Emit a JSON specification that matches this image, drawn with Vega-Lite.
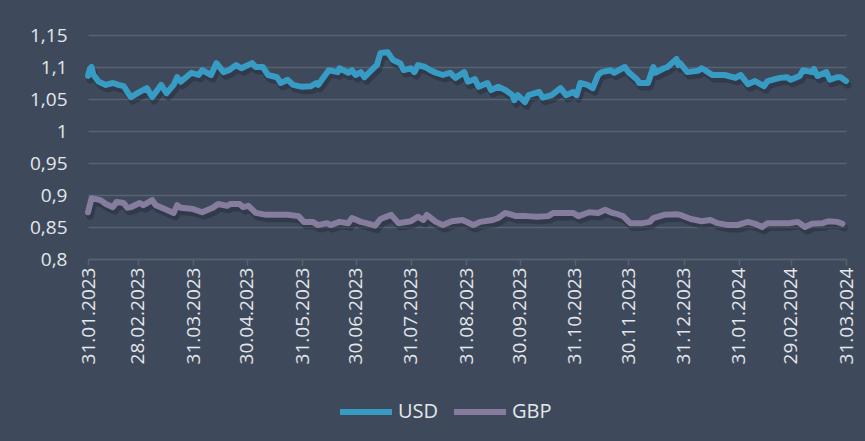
{
  "$schema": "https://vega.github.io/schema/vega-lite/v6.json",
  "width": 758,
  "height": 224,
  "autosize": {"type": "none"},
  "padding": {"left": 88, "top": 35, "right": 19, "bottom": 182},
  "background": "#3e4a5c",
  "config": {
    "view": {"stroke": null},
    "font": "Open Sans",
    "axis": {"labelColor": "#e4e6ea", "labelFont": "Open Sans", "domainColor": "#58626f", "tickColor": "#58626f"}
  },
  "data": {
    "values": [
      {"date":"2023-01-31","currency":"USD","rate":1.086},
      {"date":"2023-02-01","currency":"USD","rate":1.097},
      {"date":"2023-02-02","currency":"USD","rate":1.100},
      {"date":"2023-02-03","currency":"USD","rate":1.088},
      {"date":"2023-02-06","currency":"USD","rate":1.077},
      {"date":"2023-02-10","currency":"USD","rate":1.072},
      {"date":"2023-02-14","currency":"USD","rate":1.075},
      {"date":"2023-02-17","currency":"USD","rate":1.072},
      {"date":"2023-02-20","currency":"USD","rate":1.070},
      {"date":"2023-02-24","currency":"USD","rate":1.053},
      {"date":"2023-03-01","currency":"USD","rate":1.061},
      {"date":"2023-03-05","currency":"USD","rate":1.067},
      {"date":"2023-03-08","currency":"USD","rate":1.053},
      {"date":"2023-03-13","currency":"USD","rate":1.072},
      {"date":"2023-03-16","currency":"USD","rate":1.059},
      {"date":"2023-03-20","currency":"USD","rate":1.072},
      {"date":"2023-03-22","currency":"USD","rate":1.084},
      {"date":"2023-03-24","currency":"USD","rate":1.077},
      {"date":"2023-03-30","currency":"USD","rate":1.091},
      {"date":"2023-04-03","currency":"USD","rate":1.0875},
      {"date":"2023-04-05","currency":"USD","rate":1.095},
      {"date":"2023-04-10","currency":"USD","rate":1.0875},
      {"date":"2023-04-13","currency":"USD","rate":1.106},
      {"date":"2023-04-17","currency":"USD","rate":1.092},
      {"date":"2023-04-20","currency":"USD","rate":1.095},
      {"date":"2023-04-24","currency":"USD","rate":1.103},
      {"date":"2023-04-27","currency":"USD","rate":1.098},
      {"date":"2023-05-03","currency":"USD","rate":1.106},
      {"date":"2023-05-05","currency":"USD","rate":1.100},
      {"date":"2023-05-09","currency":"USD","rate":1.100},
      {"date":"2023-05-12","currency":"USD","rate":1.0875},
      {"date":"2023-05-17","currency":"USD","rate":1.084},
      {"date":"2023-05-19","currency":"USD","rate":1.075},
      {"date":"2023-05-23","currency":"USD","rate":1.080},
      {"date":"2023-05-26","currency":"USD","rate":1.072},
      {"date":"2023-05-31","currency":"USD","rate":1.069},
      {"date":"2023-06-05","currency":"USD","rate":1.070},
      {"date":"2023-06-08","currency":"USD","rate":1.075},
      {"date":"2023-06-09","currency":"USD","rate":1.072},
      {"date":"2023-06-15","currency":"USD","rate":1.095},
      {"date":"2023-06-20","currency":"USD","rate":1.092},
      {"date":"2023-06-21","currency":"USD","rate":1.098},
      {"date":"2023-06-26","currency":"USD","rate":1.091},
      {"date":"2023-06-28","currency":"USD","rate":1.095},
      {"date":"2023-06-30","currency":"USD","rate":1.0875},
      {"date":"2023-07-03","currency":"USD","rate":1.092},
      {"date":"2023-07-05","currency":"USD","rate":1.084},
      {"date":"2023-07-10","currency":"USD","rate":1.098},
      {"date":"2023-07-12","currency":"USD","rate":1.103},
      {"date":"2023-07-14","currency":"USD","rate":1.122},
      {"date":"2023-07-18","currency":"USD","rate":1.123},
      {"date":"2023-07-19","currency":"USD","rate":1.119},
      {"date":"2023-07-21","currency":"USD","rate":1.111},
      {"date":"2023-07-25","currency":"USD","rate":1.106},
      {"date":"2023-07-27","currency":"USD","rate":1.095},
      {"date":"2023-07-31","currency":"USD","rate":1.098},
      {"date":"2023-08-02","currency":"USD","rate":1.092},
      {"date":"2023-08-04","currency":"USD","rate":1.103},
      {"date":"2023-08-08","currency":"USD","rate":1.100},
      {"date":"2023-08-11","currency":"USD","rate":1.095},
      {"date":"2023-08-14","currency":"USD","rate":1.091},
      {"date":"2023-08-18","currency":"USD","rate":1.0875},
      {"date":"2023-08-22","currency":"USD","rate":1.091},
      {"date":"2023-08-25","currency":"USD","rate":1.083},
      {"date":"2023-08-30","currency":"USD","rate":1.092},
      {"date":"2023-09-01","currency":"USD","rate":1.077},
      {"date":"2023-09-05","currency":"USD","rate":1.081},
      {"date":"2023-09-07","currency":"USD","rate":1.069},
      {"date":"2023-09-12","currency":"USD","rate":1.075},
      {"date":"2023-09-14","currency":"USD","rate":1.064},
      {"date":"2023-09-18","currency":"USD","rate":1.069},
      {"date":"2023-09-22","currency":"USD","rate":1.064},
      {"date":"2023-09-26","currency":"USD","rate":1.056},
      {"date":"2023-09-27","currency":"USD","rate":1.048},
      {"date":"2023-09-29","currency":"USD","rate":1.056},
      {"date":"2023-10-03","currency":"USD","rate":1.045},
      {"date":"2023-10-05","currency":"USD","rate":1.056},
      {"date":"2023-10-11","currency":"USD","rate":1.061},
      {"date":"2023-10-13","currency":"USD","rate":1.052},
      {"date":"2023-10-18","currency":"USD","rate":1.056},
      {"date":"2023-10-23","currency":"USD","rate":1.067},
      {"date":"2023-10-26","currency":"USD","rate":1.056},
      {"date":"2023-10-30","currency":"USD","rate":1.061},
      {"date":"2023-11-01","currency":"USD","rate":1.056},
      {"date":"2023-11-03","currency":"USD","rate":1.075},
      {"date":"2023-11-07","currency":"USD","rate":1.072},
      {"date":"2023-11-10","currency":"USD","rate":1.067},
      {"date":"2023-11-13","currency":"USD","rate":1.0875},
      {"date":"2023-11-15","currency":"USD","rate":1.092},
      {"date":"2023-11-20","currency":"USD","rate":1.095},
      {"date":"2023-11-22","currency":"USD","rate":1.091},
      {"date":"2023-11-28","currency":"USD","rate":1.100},
      {"date":"2023-11-30","currency":"USD","rate":1.092},
      {"date":"2023-12-05","currency":"USD","rate":1.080},
      {"date":"2023-12-06","currency":"USD","rate":1.075},
      {"date":"2023-12-11","currency":"USD","rate":1.075},
      {"date":"2023-12-14","currency":"USD","rate":1.100},
      {"date":"2023-12-15","currency":"USD","rate":1.091},
      {"date":"2023-12-20","currency":"USD","rate":1.098},
      {"date":"2023-12-22","currency":"USD","rate":1.100},
      {"date":"2023-12-27","currency":"USD","rate":1.1125},
      {"date":"2023-12-28","currency":"USD","rate":1.103},
      {"date":"2023-12-29","currency":"USD","rate":1.106},
      {"date":"2024-01-02","currency":"USD","rate":1.092},
      {"date":"2024-01-08","currency":"USD","rate":1.094},
      {"date":"2024-01-10","currency":"USD","rate":1.098},
      {"date":"2024-01-12","currency":"USD","rate":1.095},
      {"date":"2024-01-16","currency":"USD","rate":1.0875},
      {"date":"2024-01-23","currency":"USD","rate":1.0875},
      {"date":"2024-01-29","currency":"USD","rate":1.083},
      {"date":"2024-02-01","currency":"USD","rate":1.0875},
      {"date":"2024-02-05","currency":"USD","rate":1.073},
      {"date":"2024-02-09","currency":"USD","rate":1.078},
      {"date":"2024-02-14","currency":"USD","rate":1.070},
      {"date":"2024-02-16","currency":"USD","rate":1.078},
      {"date":"2024-02-23","currency":"USD","rate":1.083},
      {"date":"2024-02-27","currency":"USD","rate":1.084},
      {"date":"2024-02-29","currency":"USD","rate":1.080},
      {"date":"2024-03-05","currency":"USD","rate":1.086},
      {"date":"2024-03-07","currency":"USD","rate":1.095},
      {"date":"2024-03-12","currency":"USD","rate":1.092},
      {"date":"2024-03-13","currency":"USD","rate":1.097},
      {"date":"2024-03-15","currency":"USD","rate":1.086},
      {"date":"2024-03-20","currency":"USD","rate":1.092},
      {"date":"2024-03-22","currency":"USD","rate":1.080},
      {"date":"2024-03-26","currency":"USD","rate":1.084},
      {"date":"2024-03-28","currency":"USD","rate":1.084},
      {"date":"2024-03-31","currency":"USD","rate":1.078},
      {"date":"2023-01-31","currency":"GBP","rate":0.873},
      {"date":"2023-02-02","currency":"GBP","rate":0.895},
      {"date":"2023-02-07","currency":"GBP","rate":0.892},
      {"date":"2023-02-10","currency":"GBP","rate":0.886},
      {"date":"2023-02-14","currency":"GBP","rate":0.881},
      {"date":"2023-02-16","currency":"GBP","rate":0.889},
      {"date":"2023-02-20","currency":"GBP","rate":0.8875},
      {"date":"2023-02-22","currency":"GBP","rate":0.880},
      {"date":"2023-02-24","currency":"GBP","rate":0.881},
      {"date":"2023-03-01","currency":"GBP","rate":0.8875},
      {"date":"2023-03-03","currency":"GBP","rate":0.884},
      {"date":"2023-03-08","currency":"GBP","rate":0.892},
      {"date":"2023-03-10","currency":"GBP","rate":0.884},
      {"date":"2023-03-15","currency":"GBP","rate":0.878},
      {"date":"2023-03-20","currency":"GBP","rate":0.872},
      {"date":"2023-03-22","currency":"GBP","rate":0.884},
      {"date":"2023-03-24","currency":"GBP","rate":0.880},
      {"date":"2023-03-31","currency":"GBP","rate":0.878},
      {"date":"2023-04-05","currency":"GBP","rate":0.873},
      {"date":"2023-04-11","currency":"GBP","rate":0.880},
      {"date":"2023-04-14","currency":"GBP","rate":0.886},
      {"date":"2023-04-19","currency":"GBP","rate":0.883},
      {"date":"2023-04-21","currency":"GBP","rate":0.886},
      {"date":"2023-04-26","currency":"GBP","rate":0.886},
      {"date":"2023-04-28","currency":"GBP","rate":0.881},
      {"date":"2023-05-01","currency":"GBP","rate":0.883},
      {"date":"2023-05-05","currency":"GBP","rate":0.872},
      {"date":"2023-05-11","currency":"GBP","rate":0.869},
      {"date":"2023-05-17","currency":"GBP","rate":0.869},
      {"date":"2023-05-23","currency":"GBP","rate":0.869},
      {"date":"2023-05-29","currency":"GBP","rate":0.867},
      {"date":"2023-06-01","currency":"GBP","rate":0.858},
      {"date":"2023-06-06","currency":"GBP","rate":0.858},
      {"date":"2023-06-09","currency":"GBP","rate":0.853},
      {"date":"2023-06-14","currency":"GBP","rate":0.856},
      {"date":"2023-06-16","currency":"GBP","rate":0.853},
      {"date":"2023-06-21","currency":"GBP","rate":0.858},
      {"date":"2023-06-26","currency":"GBP","rate":0.856},
      {"date":"2023-06-28","currency":"GBP","rate":0.864},
      {"date":"2023-07-03","currency":"GBP","rate":0.858},
      {"date":"2023-07-06","currency":"GBP","rate":0.856},
      {"date":"2023-07-11","currency":"GBP","rate":0.852},
      {"date":"2023-07-14","currency":"GBP","rate":0.8625},
      {"date":"2023-07-20","currency":"GBP","rate":0.869},
      {"date":"2023-07-24","currency":"GBP","rate":0.856},
      {"date":"2023-07-31","currency":"GBP","rate":0.859},
      {"date":"2023-08-04","currency":"GBP","rate":0.866},
      {"date":"2023-08-07","currency":"GBP","rate":0.861},
      {"date":"2023-08-09","currency":"GBP","rate":0.869},
      {"date":"2023-08-14","currency":"GBP","rate":0.858},
      {"date":"2023-08-18","currency":"GBP","rate":0.853},
      {"date":"2023-08-23","currency":"GBP","rate":0.859},
      {"date":"2023-08-29","currency":"GBP","rate":0.861},
      {"date":"2023-09-04","currency":"GBP","rate":0.853},
      {"date":"2023-09-08","currency":"GBP","rate":0.858},
      {"date":"2023-09-15","currency":"GBP","rate":0.861},
      {"date":"2023-09-18","currency":"GBP","rate":0.864},
      {"date":"2023-09-22","currency":"GBP","rate":0.872},
      {"date":"2023-09-28","currency":"GBP","rate":0.867},
      {"date":"2023-10-04","currency":"GBP","rate":0.867},
      {"date":"2023-10-10","currency":"GBP","rate":0.866},
      {"date":"2023-10-16","currency":"GBP","rate":0.867},
      {"date":"2023-10-19","currency":"GBP","rate":0.872},
      {"date":"2023-10-24","currency":"GBP","rate":0.872},
      {"date":"2023-10-30","currency":"GBP","rate":0.872},
      {"date":"2023-11-02","currency":"GBP","rate":0.867},
      {"date":"2023-11-08","currency":"GBP","rate":0.873},
      {"date":"2023-11-13","currency":"GBP","rate":0.872},
      {"date":"2023-11-17","currency":"GBP","rate":0.877},
      {"date":"2023-11-21","currency":"GBP","rate":0.872},
      {"date":"2023-11-24","currency":"GBP","rate":0.870},
      {"date":"2023-11-27","currency":"GBP","rate":0.867},
      {"date":"2023-12-01","currency":"GBP","rate":0.856},
      {"date":"2023-12-08","currency":"GBP","rate":0.856},
      {"date":"2023-12-12","currency":"GBP","rate":0.858},
      {"date":"2023-12-14","currency":"GBP","rate":0.864},
      {"date":"2023-12-20","currency":"GBP","rate":0.869},
      {"date":"2023-12-27","currency":"GBP","rate":0.870},
      {"date":"2023-12-29","currency":"GBP","rate":0.869},
      {"date":"2024-01-04","currency":"GBP","rate":0.8625},
      {"date":"2024-01-10","currency":"GBP","rate":0.859},
      {"date":"2024-01-15","currency":"GBP","rate":0.861},
      {"date":"2024-01-19","currency":"GBP","rate":0.856},
      {"date":"2024-01-25","currency":"GBP","rate":0.853},
      {"date":"2024-01-30","currency":"GBP","rate":0.853},
      {"date":"2024-02-05","currency":"GBP","rate":0.858},
      {"date":"2024-02-09","currency":"GBP","rate":0.855},
      {"date":"2024-02-13","currency":"GBP","rate":0.850},
      {"date":"2024-02-16","currency":"GBP","rate":0.856},
      {"date":"2024-02-22","currency":"GBP","rate":0.856},
      {"date":"2024-02-28","currency":"GBP","rate":0.856},
      {"date":"2024-03-04","currency":"GBP","rate":0.858},
      {"date":"2024-03-08","currency":"GBP","rate":0.850},
      {"date":"2024-03-12","currency":"GBP","rate":0.855},
      {"date":"2024-03-18","currency":"GBP","rate":0.856},
      {"date":"2024-03-21","currency":"GBP","rate":0.859},
      {"date":"2024-03-26","currency":"GBP","rate":0.858},
      {"date":"2024-03-29","currency":"GBP","rate":0.855}
    ]
  },
  "encoding": {
    "x": {
      "field": "date",
      "type": "temporal",
      "scale": {"type": "utc", "domain": [{"year": 2023, "month": 1, "date": 31, "utc": true}, {"year": 2024, "month": 3, "date": 31, "utc": true}]},
      "axis": {
        "title": null,
        "grid": false,
        "values": [
          {"year": 2023, "month": 1, "date": 31, "utc": true},
          {"year": 2023, "month": 2, "date": 28, "utc": true},
          {"year": 2023, "month": 3, "date": 31, "utc": true},
          {"year": 2023, "month": 4, "date": 30, "utc": true},
          {"year": 2023, "month": 5, "date": 31, "utc": true},
          {"year": 2023, "month": 6, "date": 30, "utc": true},
          {"year": 2023, "month": 7, "date": 31, "utc": true},
          {"year": 2023, "month": 8, "date": 31, "utc": true},
          {"year": 2023, "month": 9, "date": 30, "utc": true},
          {"year": 2023, "month": 10, "date": 31, "utc": true},
          {"year": 2023, "month": 11, "date": 30, "utc": true},
          {"year": 2023, "month": 12, "date": 31, "utc": true},
          {"year": 2024, "month": 1, "date": 31, "utc": true},
          {"year": 2024, "month": 2, "date": 29, "utc": true},
          {"year": 2024, "month": 3, "date": 31, "utc": true}
        ],
        "labelExpr": "utcFormat(datum.value, '%d.%m.%Y')",
        "labelAngle": -90,
        "labelFontSize": 19,
        "labelPadding": 2,
        "tickSize": 6,
        "tickWidth": 1.5,
        "domainWidth": 1.5,
        "labelFlush": false,
        "labelOverlap": false,
        "labelBound": false
      }
    },
    "y": {
      "field": "rate",
      "type": "quantitative",
      "scale": {"domain": [0.8, 1.15], "nice": false, "zero": false},
      "axis": {
        "title": null,
        "values": [0.8, 0.85, 0.9, 0.95, 1, 1.05, 1.1, 1.15],
        "labelExpr": "replace(format(datum.value, '~g'), '.', ',')",
        "labelFontSize": 19,
        "labelPadding": 21,
        "ticks": false,
        "domain": false,
        "grid": true,
        "gridColor": "#58626f",
        "gridWidth": 1.5
      }
    }
  },
  "layer": [
    {
      "mark": {"type": "line", "color": "#121826", "opacity": 0.3, "strokeWidth": 7, "strokeCap": "round", "strokeJoin": "round", "xOffset": 2, "yOffset": 4},
      "encoding": {"detail": {"field": "currency"}}
    },
    {
      "mark": {"type": "line", "strokeWidth": 6, "strokeCap": "round", "strokeJoin": "round"},
      "encoding": {
        "color": {
          "field": "currency",
          "type": "nominal",
          "scale": {"domain": ["USD", "GBP"], "range": ["#389bc4", "#857c9e"]},
          "legend": {
            "title": null,
            "orient": "none",
            "legendX": 249,
            "legendY": 348,
            "direction": "horizontal",
            "symbolType": "stroke",
            "symbolSize": 2704,
            "symbolStrokeWidth": 6,
            "labelFontSize": 20,
            "labelColor": "#e4e6ea",
            "labelFont": "Open Sans",
            "labelOffset": 3,
            "columnPadding": 3,
            "padding": 0
          }
        }
      }
    }
  ]
}
